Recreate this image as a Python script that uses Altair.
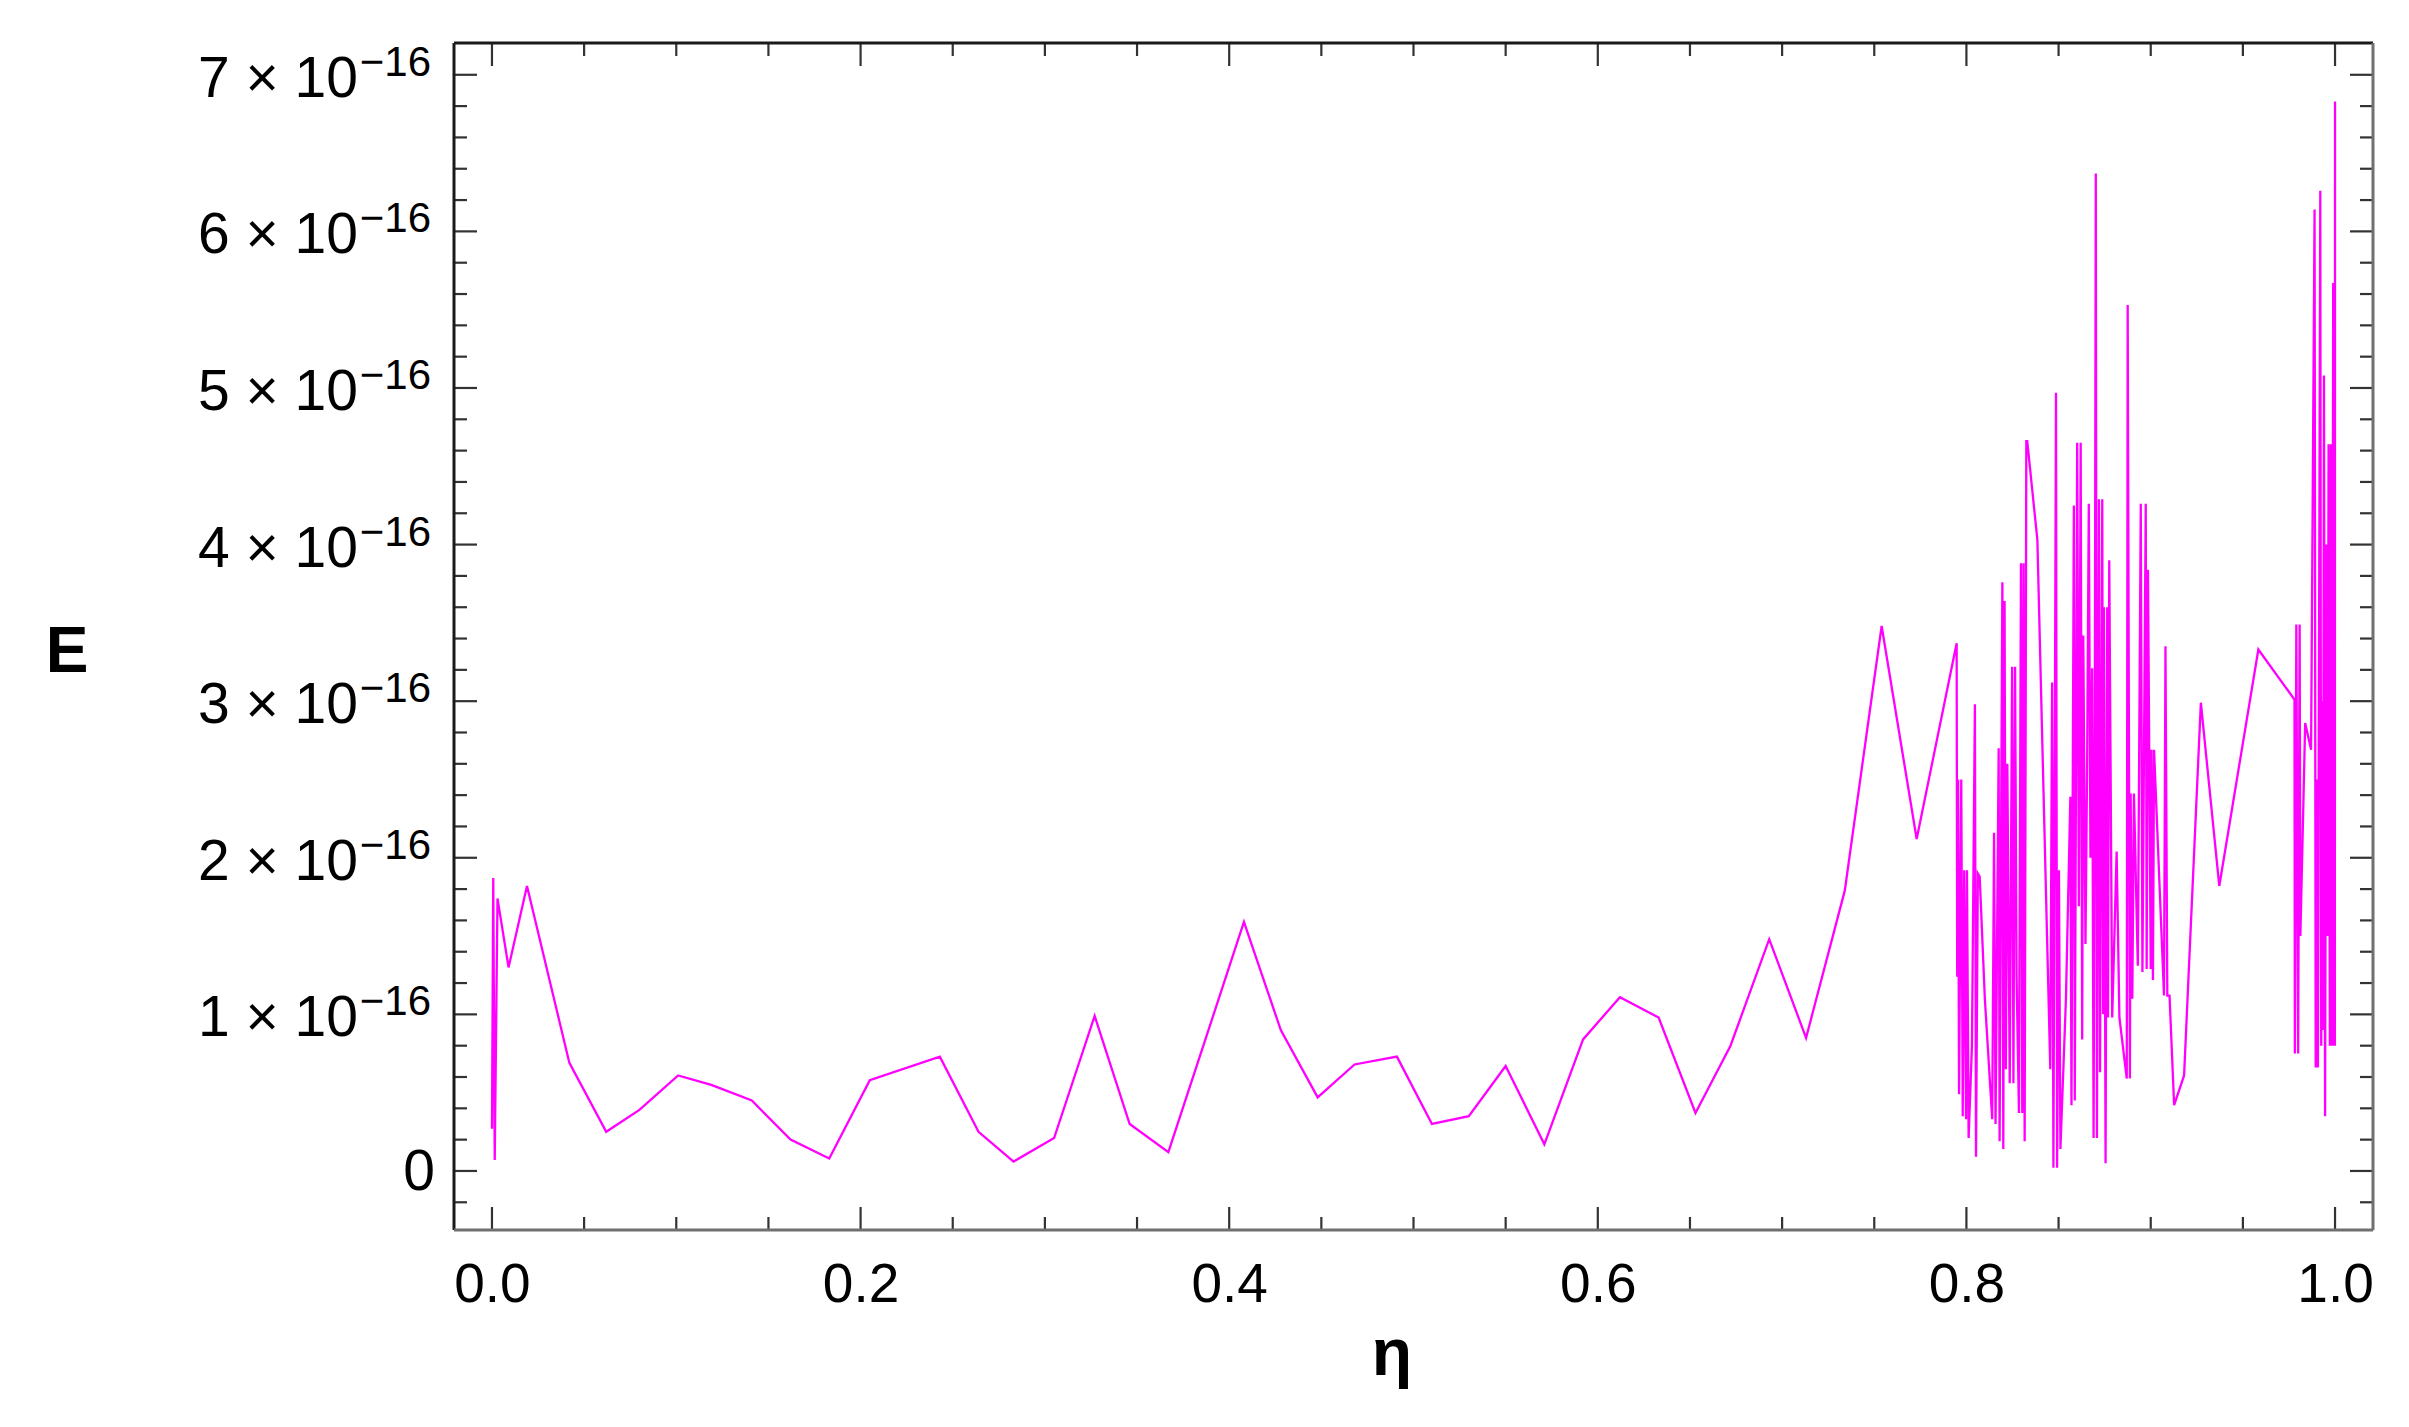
import altair as alt
import pandas as pd

# ---- data (E in units of 1e-16) ----
eta_sparse = [0.0, 0.0007, 0.0015, 0.003, 0.009, 0.019, 0.042, 0.062, 0.080, 0.101,
              0.119, 0.141, 0.162, 0.183, 0.205, 0.243, 0.264, 0.283, 0.305, 0.327,
              0.346, 0.367, 0.408, 0.428, 0.448, 0.468, 0.491, 0.510, 0.530, 0.550,
              0.571, 0.592, 0.612, 0.633, 0.653, 0.672, 0.693, 0.713, 0.734, 0.754,
              0.773]
E_sparse = [0.27, 1.87, 0.07, 1.74, 1.30, 1.82, 0.69, 0.25, 0.39, 0.61,
            0.55, 0.45, 0.20, 0.08, 0.58, 0.73, 0.25, 0.06, 0.21, 0.99,
            0.30, 0.12, 1.59, 0.90, 0.47, 0.68, 0.73, 0.30, 0.35, 0.67,
            0.17, 0.84, 1.11, 0.98, 0.37, 0.80, 1.48, 0.85, 1.79, 3.48,
            2.12]

eta_dense1 = [0.7947, 0.7950, 0.7955, 0.7960, 0.7972, 0.7980, 0.7988, 0.7998, 0.8003, 0.8012,
              0.8030, 0.8046, 0.8052, 0.8062, 0.8072, 0.8100, 0.8140, 0.8150, 0.8158, 0.8175,
              0.8180, 0.8195, 0.8200, 0.8207, 0.8214, 0.8222, 0.8235, 0.8248, 0.8255, 0.8264,
              0.8272, 0.8285, 0.8296, 0.8303, 0.8310, 0.8316, 0.8325, 0.8330, 0.8385, 0.8455,
              0.8465, 0.8472, 0.8486, 0.8492, 0.8502, 0.8510, 0.8540, 0.8564, 0.8570, 0.8583,
              0.8588, 0.8601, 0.8610, 0.8620, 0.8628, 0.8634, 0.8646, 0.8655, 0.8664, 0.8673,
              0.8682, 0.8690, 0.8697, 0.8702, 0.8708, 0.8719, 0.8725, 0.8737, 0.8742, 0.8746,
              0.8755, 0.8764, 0.8768, 0.8775, 0.8791, 0.8815, 0.8830, 0.8870, 0.8875, 0.8887,
              0.8891, 0.8900, 0.8909, 0.8930, 0.8946, 0.8955, 0.8973, 0.8978, 0.8985, 0.9000,
              0.9004, 0.9012, 0.9018, 0.9072, 0.9080, 0.9090, 0.9102]
E_dense1 = [3.37, 1.24, 2.50, 0.49, 2.50, 0.35, 1.92, 0.33, 1.92, 0.21,
            0.80, 2.98, 0.09, 1.90, 1.88, 1.10, 0.33, 2.16, 0.30, 2.70,
            0.19, 3.76, 0.14, 3.64, 0.65, 2.60, 0.56, 3.22, 0.56, 3.22,
            1.25, 0.37, 3.88, 0.37, 3.88, 0.19, 4.66, 4.66, 4.03, 0.65,
            3.12, 0.02, 4.97, 0.02, 1.92, 0.14, 1.10, 2.39, 0.42, 4.25,
            0.45, 4.65, 1.69, 4.65, 0.84, 3.42, 1.45, 2.60, 4.26, 2.00,
            3.21, 0.21, 3.21, 6.37, 0.21, 4.29, 0.63, 4.29, 1.00, 3.60,
            0.05, 3.60, 0.98, 3.90, 0.98, 2.04, 0.98, 0.59, 5.53, 0.59,
            2.41, 1.10, 2.41, 1.31, 4.26, 1.27, 4.26, 1.29, 3.84, 1.29,
            2.69, 1.22, 2.69, 1.12, 3.35, 1.12, 1.12]

eta_smooth = [0.9127, 0.9181, 0.9272, 0.9372, 0.9584, 0.9780]
E_smooth = [0.42, 0.61, 2.99, 1.82, 3.33, 3.01]

eta_dense2 = [0.9782, 0.9790, 0.9800, 0.9808, 0.9812, 0.9838, 0.9870, 0.9889, 0.9895, 0.9902,
              0.9907, 0.9920, 0.9925, 0.9930, 0.9935, 0.9940, 0.9946, 0.9953, 0.9960, 0.9965,
              0.9972, 0.9978, 0.9984, 0.9990, 0.9994, 0.9997, 0.9999, 1.0000]
E_dense2 = [0.75, 3.49, 0.75, 3.49, 1.50, 2.86, 2.69, 6.14, 0.66, 2.50,
            0.66, 6.26, 0.80, 3.00, 0.90, 5.08, 0.35, 4.00, 1.50, 4.64,
            0.80, 4.64, 0.80, 5.67, 0.80, 5.67, 0.80, 6.83]

x_major = [0.0, 0.2, 0.4, 0.6, 0.8, 1.0]
x_minor = [0.05, 0.1, 0.15, 0.25, 0.3, 0.35, 0.45, 0.5, 0.55, 0.65, 0.7, 0.75,
           0.85, 0.9, 0.95]
y_major = [0, 1, 2, 3, 4, 5, 6, 7]
y_minor = [-0.2, 0.2, 0.4, 0.6, 0.8, 1.2, 1.4, 1.6, 1.8, 2.2, 2.4, 2.6, 2.8,
           3.2, 3.4, 3.6, 3.8, 4.2, 4.4, 4.6, 4.8, 5.2, 5.4, 5.6, 5.8,
           6.2, 6.4, 6.6, 6.8]
y_label_main = ["0", "1  \u00d7 10", "2  \u00d7 10", "3  \u00d7 10", "4  \u00d7 10",
                "5  \u00d7 10", "6  \u00d7 10", "7  \u00d7 10"]
y_label_sup = ["", "\u221216", "\u221216", "\u221216", "\u221216", "\u221216", "\u221216", "\u221216"]

# ---- layout ----
W, H = 1919, 1187
FONT = "Liberation Sans"
MAJ, MIN = 23, 13
xs = alt.Scale(domain=[-0.0206, 1.0206], nice=False, zero=False)
ys = alt.Scale(domain=[-0.377, 7.203], nice=False, zero=False)

eta_all = eta_sparse + eta_dense1 + eta_smooth + eta_dense2
E_all = E_sparse + E_dense1 + E_smooth + E_dense2
line_df = pd.DataFrame({"eta": eta_all, "E": E_all, "i": list(range(len(eta_all)))})

line = alt.Chart(line_df).mark_line(color="#ff00ff", strokeWidth=2.3, clip=True).encode(
    x=alt.X("eta:Q", scale=xs,
            axis=alt.Axis(values=x_major, format=".1f", labelFont=FONT, labelFontSize=55,
                          labelColor="#000", ticks=False, domain=False, grid=False,
                          labelPadding=28, title=None)),
    y=alt.Y("E:Q", scale=ys, axis=None),
    order="i:Q",
)

xM = pd.DataFrame({"v": x_major})
xm = pd.DataFrame({"v": x_minor})
yM = pd.DataFrame({"v": y_major})
ym = pd.DataFrame({"v": y_minor})

def xticks(df, length):
    b = alt.Chart(df).mark_rule(color="#333", strokeWidth=2.2).encode(
        x=alt.X("v:Q", scale=xs), y=alt.value(H), y2=alt.value(H - length))
    t = alt.Chart(df).mark_rule(color="#333", strokeWidth=2.2).encode(
        x=alt.X("v:Q", scale=xs), y=alt.value(0), y2=alt.value(length))
    return [b, t]

def yticks(df, length):
    l = alt.Chart(df).mark_rule(color="#333", strokeWidth=2.2).encode(
        y=alt.Y("v:Q", scale=ys), x=alt.value(0), x2=alt.value(length))
    r = alt.Chart(df).mark_rule(color="#333", strokeWidth=2.2).encode(
        y=alt.Y("v:Q", scale=ys), x=alt.value(W), x2=alt.value(W - length))
    return [l, r]

one = pd.DataFrame({"a": [0]})
frame = [
    alt.Chart(one).mark_rule(color="#1a1a1a", strokeWidth=3).encode(
        x=alt.value(0), y=alt.value(0), y2=alt.value(H)),
    alt.Chart(one).mark_rule(color="#1a1a1a", strokeWidth=3).encode(
        x=alt.value(0), x2=alt.value(W), y=alt.value(0)),
    alt.Chart(one).mark_rule(color="#707070", strokeWidth=3).encode(
        x=alt.value(W), y=alt.value(0), y2=alt.value(H)),
    alt.Chart(one).mark_rule(color="#707070", strokeWidth=3).encode(
        x=alt.value(0), x2=alt.value(W), y=alt.value(H)),
]

ylab = pd.DataFrame({"v": y_major, "main": y_label_main, "sup": y_label_sup})
ylab_main = alt.Chart(ylab[ylab.v > 0]).mark_text(
    align="right", baseline="middle", font=FONT, fontSize=57, color="#000", dy=5).encode(
    y=alt.Y("v:Q", scale=ys), x=alt.value(-96), text="main:N")
ylab_zero = alt.Chart(ylab[ylab.v == 0]).mark_text(
    align="right", baseline="middle", font=FONT, fontSize=57, color="#000", dy=2).encode(
    y=alt.Y("v:Q", scale=ys), x=alt.value(-19), text="main:N")
ylab_sup = alt.Chart(ylab[ylab.v > 0]).mark_text(
    align="right", baseline="middle", font=FONT, fontSize=42, color="#000", dy=-12).encode(
    y=alt.Y("v:Q", scale=ys), x=alt.value(-23), text="sup:N")

ytitle = alt.Chart(pd.DataFrame({"t": ["E"]})).mark_text(
    align="center", baseline="middle", font=FONT, fontSize=64, fontWeight="bold",
    color="#000").encode(x=alt.value(-387), y=alt.value(610), text="t:N")
xtitle = alt.Chart(pd.DataFrame({"t": ["\u03b7"]})).mark_text(
    align="center", baseline="alphabetic", font=FONT, fontSize=66, fontWeight="bold",
    color="#000").encode(x=alt.value(938), y=alt.value(1332), text="t:N")

layers = ([line] + xticks(xM, MAJ) + xticks(xm, MIN) + yticks(yM, MAJ) + yticks(ym, MIN)
          + frame + [ylab_main, ylab_zero, ylab_sup, ytitle, xtitle])

chart = alt.layer(*layers).properties(
    width=W, height=H,
    autosize=alt.AutoSizeParams(type="none"),
    padding={"left": 446, "top": 35, "right": 20, "bottom": 180},
).configure_view(stroke=None).configure(background="white")

chart.save("out.html", embed_options={"renderer": "svg", "actions": False})
